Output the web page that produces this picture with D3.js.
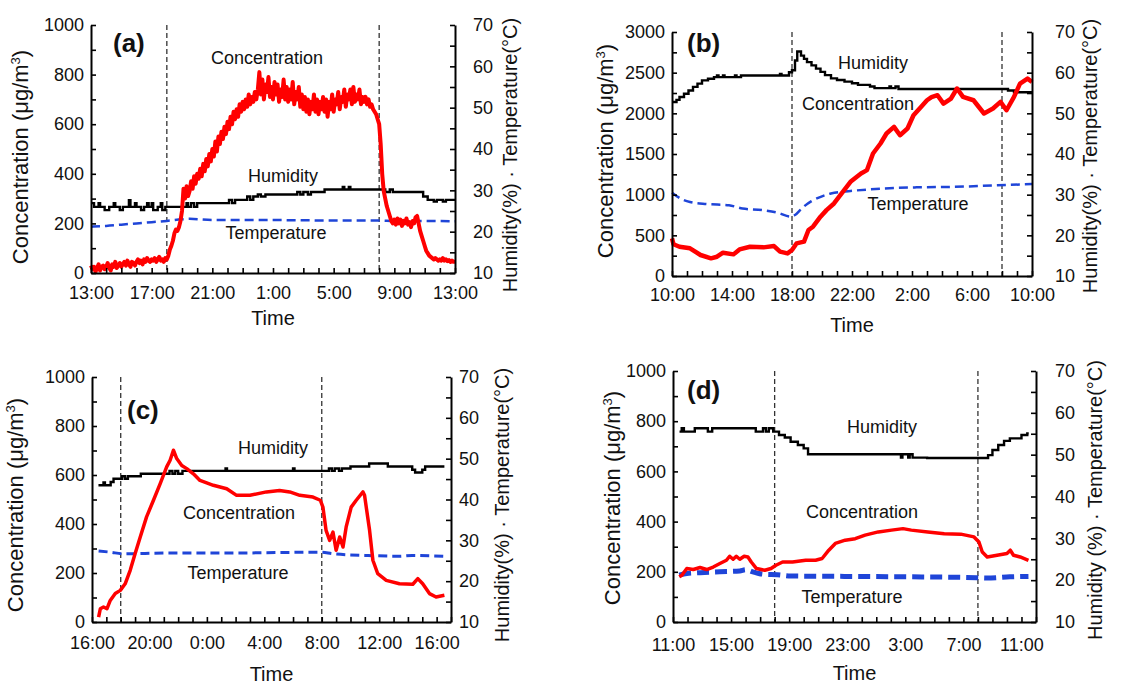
<!DOCTYPE html>
<html>
<head>
<meta charset="utf-8">
<script src="https://cdn.jsdelivr.net/npm/d3@7"></script>
<style>
  body { margin: 0; background: #fff; }
  svg text { font-family: "Liberation Sans", Arial, sans-serif; fill: #111; }
</style>
</head>
<body>
<div id="chart"></div>
<script>
// ---- data (time = hours after the panel's first tick) ----
// panel (a): concentration sampled every 0.1 h from 13:00, one row per hour
const aConc = [
  30,15,25,5,20,35,10,25,30,15,
  25,40,20,10,35,25,45,20,30,40,
  25,35,45,30,50,35,25,45,40,30,
  45,55,40,50,35,55,45,60,50,45,
  55,50,60,45,55,65,50,55,45,60,
  55,70,95,110,130,160,175,170,185,210,
  250,340,300,350,310,330,370,340,390,360,
  400,380,420,390,440,410,460,430,480,450,
  500,470,530,490,550,520,570,540,590,560,
  610,580,630,600,650,620,660,630,680,650,
  690,660,700,670,720,680,710,690,730,700,
  740,810,720,780,700,760,730,790,710,750,
  700,770,720,760,690,740,710,780,700,750,
  690,740,700,770,680,730,700,750,670,720,
  660,710,650,700,640,690,660,720,650,700,
  640,690,660,710,650,700,630,690,660,720,
  650,700,680,730,660,710,690,740,670,720,
  700,740,680,750,690,720,700,740,680,710,
  690,710,680,700,670,680,660,650,640,620,
  600,520,400,330,300,270,250,230,210,200,
  215,195,220,200,215,190,210,200,220,195,
  205,185,210,200,225,230,200,170,150,130,
  110,90,80,70,65,60,55,60,55,50,
  55,50,60,50,55,48,52,45,50,45,
  45];
const aConcStep = 0.1;
const aHum = [[0,26.9],[0.2,26],[0.5,26.9],[0.6,26],[0.9,25.2],[1.2,26],[1.5,26.9],[1.6,26],[1.9,25.2],[2.1,26],
  [2.5,27.6],[2.6,26],[2.9,26.9],[3.0,26],[3.3,25.2],[3.5,26],[3.7,26.9],[3.8,26],[4.0,26.9],[4.1,25.2],
  [4.4,26],[4.6,26.9],[4.7,25.2],[4.9,26],[6.3,26.9],[6.4,26],[6.6,26.9],[6.8,26],[7.0,26.9],[9.1,27.7],
  [9.3,26.9],[9.5,27.7],[10.3,28.5],[10.5,27.7],[10.7,28.5],[11.0,29],[11.2,28.5],[11.5,29],[13.6,29.6],
  [13.8,29],[14.0,29.6],[14.3,29],[14.5,29.6],[15.4,30.2],[16.6,30.8],[16.7,30.2],[17.0,30.8],[17.1,30.2],
  [19.0,30.2],[19.4,29.6],[19.7,30.2],[19.9,29.6],[21.9,28.5],[22.2,27.7],[22.6,27.3],[22.8,27.7],
  [23.2,27.3],[23.4,27.7],[24,27.7]];
const aTemp = [[0,21.2],[1,21.4],[2,21.7],[3,22],[4,22.3],[5,22.6],[6,23],[6.5,23.1],[8,22.8],[12,22.8],
  [16,22.7],[19,22.7],[20,22.6],[22,22.6],[24,22.5]];

// panel (b): from 10:00
const bConc = [[0,462],[0.1,390],[0.5,360],[1.2,340],[1.9,258],[2.6,217],[3.0,237],[3.4,287],[4.1,266],
  [4.5,327],[5.2,360],[6.1,352],[6.8,368],[7.2,299],[7.7,278],[8.0,319],[8.3,401],[8.8,422],[9.1,565],
  [9.4,606],[9.9,729],[10.3,810],[10.8,892],[11.4,1036],[11.9,1158],[12.6,1261],[13.0,1302],[13.4,1506],
  [13.9,1629],[14.3,1752],[14.8,1834],[15.2,1731],[15.7,1813],[16.1,1977],[16.6,2079],[17.0,2161],
  [17.3,2200],[17.7,2223],[18.1,2120],[18.6,2182],[19.0,2305],[19.4,2202],[20.1,2161],[20.8,1998],
  [21.4,2059],[21.9,2141],[22.3,2038],[22.8,2202],[23.2,2366],[23.7,2427],[24,2386]];
const bHum = [[0,52.8],[0.3,53.3],[0.5,54],[0.8,54.8],[1.1,55.6],[1.4,56.5],[1.7,57.3],[2.0,58.1],[2.4,58.5],
  [2.8,58.9],[3.0,59.3],[3.1,58.9],[3.4,59.3],[3.5,58.9],[4.2,59.3],[4.3,58.9],[4.6,59.3],[7.2,59.7],
  [7.3,59.3],[7.8,60.1],[8.0,60.6],[8.2,63],[8.35,65.2],[8.6,64.2],[8.8,63.4],[9.0,62.6],[9.3,61.8],
  [9.6,61],[9.9,60.2],[10.2,59.4],[10.6,58.6],[11.0,58.2],[11.5,57.8],[12.0,57.4],[12.4,57.0],[13.2,56.6],
  [13.5,56.2],[14.5,56.6],[14.6,56.2],[14.9,56.6],[15.1,56.0],[22.0,56.0],[22.4,55.6],[22.8,55.2],[24,55.2]];
const bTemp = [[0,30.5],[0.55,29.1],[1.2,28.2],[2.3,27.7],[3.8,27.4],[4.7,26.6],[6.0,26.2],[7.1,25.5],
  [7.9,24.6],[8.2,25.0],[8.7,26.8],[9.3,28.4],[10,29.6],[10.6,30.3],[11.9,30.9],[14.1,31.5],[16.3,31.8],
  [18.6,31.9],[21.7,32.3],[24,32.6]];

// panel (c): from 16:00
const cConc = [[0.46,20],[0.58,54],[0.8,61],[1.04,54],[1.27,88],[1.62,116],[1.97,129],[2.31,156],[2.66,211],
  [3.0,279],[3.36,347],[3.8,429],[4.28,497],[4.75,565],[5.2,633],[5.44,660],[5.67,701],[5.9,667],[6.25,639],
  [6.6,626],[7.06,605],[7.52,578],[8.45,558],[9.38,544],[10.07,517],[11.0,517],[12.15,531],[13.06,537],
  [13.77,531],[14.47,517],[15.39,510],[15.9,497],[16.08,469],[16.3,374],[16.55,333],[16.78,367],[17.0,293],
  [17.25,347],[17.48,306],[17.7,388],[18.05,469],[18.4,497],[18.87,531],[18.98,517],[19.33,374],[19.56,252],
  [19.9,197],[20.49,170],[21.41,156],[22.34,154],[22.69,177],[23.03,156],[23.5,116],[23.96,102],[24.54,109]];
const cHum = [[0.45,43.5],[0.8,44.2],[0.9,43.5],[1.3,44.3],[1.5,45.1],[2.1,45.7],[2.3,45.1],[2.5,45.7],
  [3.4,46.3],[5.4,47.0],[5.6,46.3],[5.8,47.0],[6.0,46.3],[6.3,47.0],[9.3,47.6],[9.4,47.0],[14.0,47.6],
  [14.1,47.0],[16.5,47.6],[16.7,47.0],[16.9,47.6],[17.2,47.0],[17.4,47.6],[18.0,48.1],[19.3,48.8],
  [20.6,48.1],[22.3,47.3],[22.5,46.6],[22.9,46.6],[23.0,47.3],[23.2,48.1],[24.54,48.1]];
const cTemp = [[0.46,27.4],[1.27,27.1],[2.2,26.7],[5.2,26.9],[9.8,26.9],[15.9,27.1],[16.8,26.7],[19.1,26.3],
  [21.4,26.1],[22.3,26.3],[24.54,26.1]];

// panel (d): from 11:00
const dConc = [[0.43,180],[0.61,186],[0.95,213],[1.4,209],[1.86,217],[2.32,209],[2.77,219],[3.23,233],
  [3.68,246],[3.9,262],[4.14,250],[4.36,262],[4.6,250],[4.9,262],[5.16,259],[5.39,239],[5.75,213],
  [6.32,206],[6.75,213],[7.09,226],[7.55,239],[8.23,239],[9.14,246],[9.82,246],[10.27,253],[10.73,286],
  [11.18,313],[11.86,326],[12.55,332],[13.23,346],[14.14,359],[15.05,366],[15.84,372],[16.41,366],
  [17.55,359],[18.68,352],[19.82,350],[20.73,339],[21.07,319],[21.3,279],[21.64,259],[22.32,266],
  [23.0,273],[23.23,286],[23.45,266],[23.91,259],[24.48,246]];
const dHum = [[0.45,55.5],[0.6,56.3],[0.75,55.5],[1.5,56.3],[2.4,55.5],[2.7,56.3],[5.7,55.5],[6.2,56.3],
  [6.4,55.5],[6.6,56.3],[6.9,55.5],[7.3,54.7],[7.7,54.1],[8.1,53.1],[8.6,52.3],[9.0,51.5],[9.3,50.1],
  [15.7,49.3],[15.8,50.1],[16.2,49.3],[16.3,50.1],[16.5,49.3],[17.5,49.2],[21.5,49.2],[21.7,49.9],
  [22.0,51.1],[22.4,52.3],[22.8,53.3],[23.2,53.9],[24.0,54.7],[24.4,55.1],[24.5,55.1]];
const dTemp = [[0.43,21.2],[0.95,21.6],[1.86,21.8],[3.23,22.0],[4.6,22.2],[5.0,22.5],[5.5,22.0],[5.9,21.6],
  [6.3,21.4],[7.2,21.3],[8.1,21.0],[11.8,20.9],[16.4,20.8],[20.9,20.6],[21.6,20.5],[23.2,20.8],[24.48,20.9]];

// ---- layout ----
const svg = d3.select('#chart').append('svg')
    .attr('width', 1142)
    .attr('height', 685);

const panels = [
  { letter: '(a)', left: 91, right: 455, top: 25, bottom: 273, span: 24, startHour: 13, shifts: [5, 19],
    concMax: 1000, major: 200, minor: 100,
    conc: aConc.map((v, i) => [i * aConcStep, v]), hum: aHum, temp: aTemp,
    redW: 4, blueW: 2.5, blueDash: '9,5', xPad: 13, rPad: 18, timeY: 325,
    leftTitle: [20, 157], rightTitle: [510, 155], rightText: 'Humidity(%) · Temperature(°C)',
    letterPos: [113, 52], labels: { Concentration: [267, 64], Humidity: [283, 182], Temperature: [276, 239] } },
  { letter: '(b)', left: 672, right: 1032, top: 32, bottom: 276, span: 24, startHour: 10, shifts: [8, 22],
    concMax: 3000, major: 500, minor: 250,
    conc: bConc, hum: bHum, temp: bTemp,
    redW: 4.5, blueW: 2.5, blueDash: '9,5', xPad: 12, rPad: 23, timeY: 332,
    leftTitle: [605, 151], rightTitle: [1090, 156], rightText: 'Humidity(%) · Temperature(°C)',
    letterPos: [687, 52], labels: { Humidity: [873, 69], Concentration: [858, 110], Temperature: [918, 210] } },
  { letter: '(c)', left: 92, right: 451, top: 377, bottom: 622, span: 25, startHour: 16, shifts: [2, 16],
    concMax: 1000, major: 200, minor: 100,
    conc: cConc, hum: cHum, temp: cTemp,
    redW: 3.5, blueW: 3, blueDash: '9,5', xPad: 14, rPad: 8, timeY: 681,
    leftTitle: [15, 505], rightTitle: [502, 505], rightText: 'Humidity(%) · Temperature(°C)',
    letterPos: [127, 419], labels: { Humidity: [273, 454], Concentration: [239, 519], Temperature: [238, 579] } },
  { letter: '(d)', left: 673, right: 1036, top: 371, bottom: 622, span: 25, startHour: 11, shifts: [7, 21],
    concMax: 1000, major: 200, minor: 100,
    conc: dConc, hum: dHum, temp: dTemp,
    redW: 3.5, blueW: 5, blueDash: '12,6', xPad: 16, rPad: 19, timeY: 680,
    leftTitle: [612, 498], rightTitle: [1095, 500], rightText: 'Humidity (%) · Temperature(°C)',
    letterPos: [687, 399], labels: { Humidity: [882, 433], Concentration: [862, 518], Temperature: [852, 603] } }
];

function styleAxis(sel) {
    sel.select('.domain').attr('stroke', '#000').attr('stroke-width', 2);
    sel.selectAll('.tick line').attr('stroke', '#000').attr('stroke-width', 1.6);
    sel.selectAll('.tick text').attr('font-size', 18).style('font-family', '"Liberation Sans", Arial, sans-serif').attr('fill', '#111');
}

function drawPanel(p) {
    const g = svg.append('g');

    const x = d3.scaleLinear().domain([0, p.span]).range([p.left, p.right]);
    const yL = d3.scaleLinear().domain([0, p.concMax]).range([p.bottom, p.top]);
    const yR = d3.scaleLinear().domain([10, 70]).range([p.bottom, p.top]);

    // shift boundaries (18:00 and 8:00)
    g.selectAll('.shift')
        .data(p.shifts)
        .enter()
        .append('line')
        .attr('x1', d => x(d)).attr('x2', d => x(d))
        .attr('y1', p.top).attr('y2', p.bottom)
        .attr('stroke', '#333')
        .attr('stroke-width', 1.3)
        .attr('stroke-dasharray', '5,3');

    g.append('path')
        .datum(p.temp)
        .attr('fill', 'none')
        .attr('stroke', '#1f45d8')
        .attr('stroke-width', p.blueW)
        .attr('stroke-dasharray', p.blueDash)
        .attr('d', d3.line().x(d => x(d[0])).y(d => yR(d[1])).curve(d3.curveMonotoneX));

    g.append('path')
        .datum(p.hum)
        .attr('fill', 'none')
        .attr('stroke', '#000')
        .attr('stroke-width', 2.4)
        .attr('d', d3.line().x(d => x(d[0])).y(d => yR(d[1])).curve(d3.curveStepAfter));

    g.append('path')
        .datum(p.conc)
        .attr('fill', 'none')
        .attr('stroke', '#ff0000')
        .attr('stroke-width', p.redW)
        .attr('stroke-linejoin', 'round')
        .attr('d', d3.line().x(d => x(d[0])).y(d => yL(d[1])));

    // axes, ticks pointing inward
    const xAxis = d3.axisBottom(x)
        .tickValues(d3.range(0, p.span + 0.01, 1))
        .tickSize(-5)
        .tickSizeOuter(0)
        .tickPadding(p.xPad)
        .tickFormat(h => h % 4 === 0 ? `${(p.startHour + h) % 24}:00` : '');
    g.append('g')
        .attr('transform', `translate(0,${p.bottom})`)
        .call(xAxis)
        .call(styleAxis);

    const leftAxis = d3.axisLeft(yL)
        .tickValues(d3.range(0, p.concMax + 1, p.minor))
        .tickSize(-5)
        .tickSizeOuter(0)
        .tickPadding(7)
        .tickFormat(d => d % p.major === 0 ? d : '');
    g.append('g')
        .attr('transform', `translate(${p.left},0)`)
        .call(leftAxis)
        .call(styleAxis);

    const rightAxis = d3.axisRight(yR)
        .tickValues(d3.range(10, 70.1, 5))
        .tickSize(-5)
        .tickSizeOuter(0)
        .tickPadding(p.rPad)
        .tickFormat(d => d % 10 === 0 ? d : '');
    g.append('g')
        .attr('transform', `translate(${p.right},0)`)
        .call(rightAxis)
        .call(styleAxis);

    // titles
    const lt = g.append('text')
        .attr('transform', `translate(${p.leftTitle[0]},${p.leftTitle[1]}) rotate(-90)`)
        .attr('text-anchor', 'middle')
        .attr('dy', '0.35em')
        .attr('font-size', 22);
    lt.append('tspan').text('Concentration (μg/m');
    lt.append('tspan').attr('font-size', 13).attr('dy', -8).text('3');
    lt.append('tspan').attr('dy', 8).text(')');

    g.append('text')
        .attr('transform', `translate(${p.rightTitle[0]},${p.rightTitle[1]}) rotate(-90)`)
        .attr('text-anchor', 'middle')
        .attr('dy', '0.35em')
        .attr('font-size', 20)
        .text(p.rightText);

    g.append('text')
        .attr('x', (p.left + p.right) / 2)
        .attr('y', p.timeY)
        .attr('text-anchor', 'middle')
        .attr('font-size', 20)
        .text('Time');

    g.append('text')
        .attr('x', p.letterPos[0])
        .attr('y', p.letterPos[1])
        .attr('font-size', 26)
        .attr('font-weight', 'bold')
        .text(p.letter);

    Object.entries(p.labels).forEach(([name, pos]) => {
        g.append('text')
            .attr('x', pos[0])
            .attr('y', pos[1])
            .attr('text-anchor', 'middle')
            .attr('font-size', 18)
            .attr('fill', '#222')
            .text(name);
    });
}

panels.forEach(drawPanel);
</script>
</body>
</html>
